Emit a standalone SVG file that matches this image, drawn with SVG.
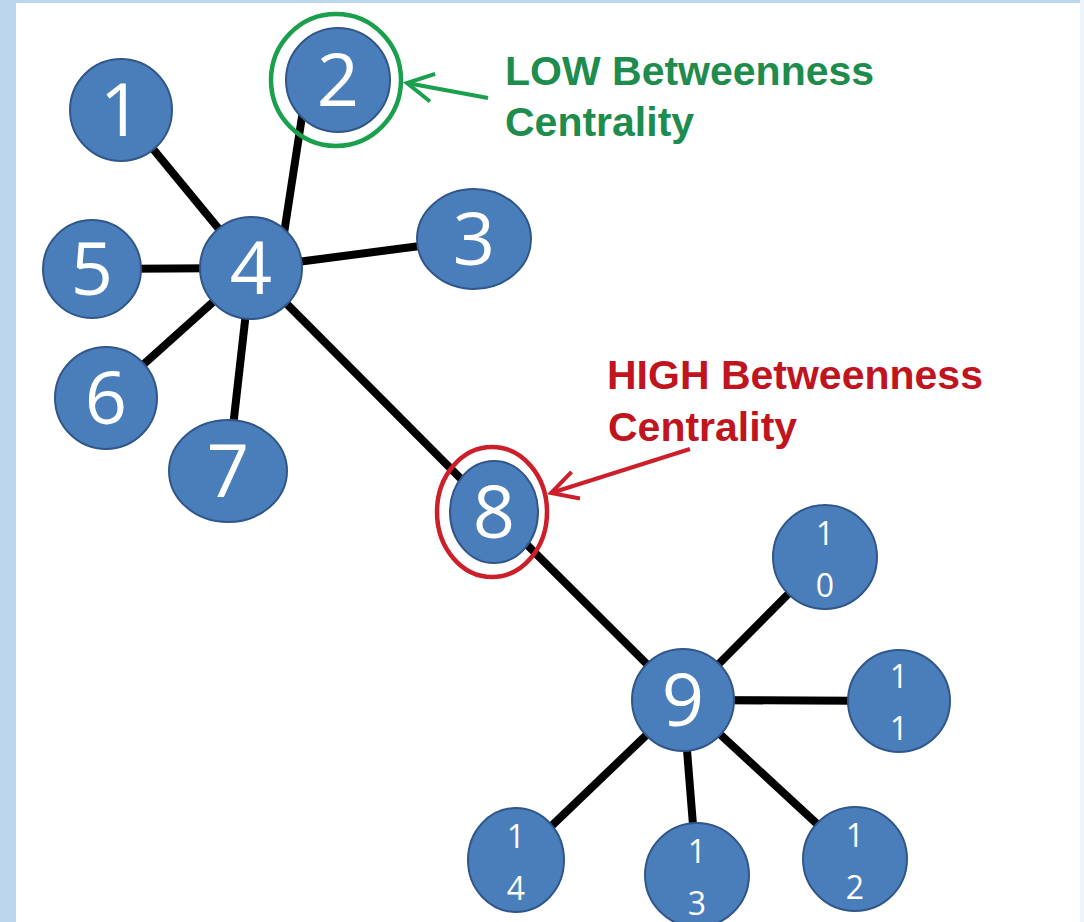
<svg xmlns="http://www.w3.org/2000/svg" width="1084" height="922" viewBox="0 0 1084 922">
<style>
.node{fill:#4a7ebb;stroke:#30568a;stroke-width:2}
.big{font-family:"Open Sans","Liberation Sans",sans-serif;font-size:74px;fill:#fff;text-anchor:middle}
.small{font-family:"Open Sans","Liberation Sans",sans-serif;font-size:32px;fill:#fff;text-anchor:middle}
.edge{stroke:#000;stroke-width:8;stroke-linecap:butt}
.lbl{font-family:"Liberation Sans",Arial,sans-serif;font-size:41px;font-weight:bold}
</style>
<defs>
<marker id="ag" markerUnits="userSpaceOnUse" markerWidth="40" markerHeight="40" viewBox="-30 -20 40 40" refX="0" refY="0" orient="auto">
<path d="M-26,-14 L0,0 L-26,14" fill="none" stroke="#1aa04c" stroke-width="4"/>
</marker>
<marker id="ar" markerUnits="userSpaceOnUse" markerWidth="40" markerHeight="40" viewBox="-30 -20 40 40" refX="0" refY="0" orient="auto">
<path d="M-26,-14 L0,0 L-26,14" fill="none" stroke="#cc1f2a" stroke-width="4"/>
</marker>
</defs>
<rect x="0" y="0" width="1084" height="922" fill="#bcd6ee"/>
<rect x="1080" y="0" width="4" height="922" fill="#eef4fb"/>
<rect x="16" y="3" width="1064" height="919" fill="#ffffff"/>
<g id="connectors">
<line class="edge" x1="121" y1="110" x2="251" y2="268"/>
<line class="edge" x1="303" y1="110" x2="283" y2="240"/>
<line class="edge" x1="92" y1="269" x2="251" y2="268"/>
<line class="edge" x1="474" y1="239" x2="251" y2="268"/>
<line class="edge" x1="106" y1="398" x2="251" y2="268"/>
<line class="edge" x1="228" y1="471" x2="251" y2="268"/>
<line class="edge" x1="251" y1="268" x2="494" y2="512"/>
<line class="edge" x1="494" y1="512" x2="683" y2="700"/>
<line class="edge" x1="825" y1="557" x2="683" y2="700"/>
<line class="edge" x1="899" y1="701" x2="683" y2="700"/>
<line class="edge" x1="855" y1="859" x2="683" y2="700"/>
<line class="edge" x1="697" y1="875" x2="683" y2="700"/>
<line class="edge" x1="516" y1="860" x2="683" y2="700"/>
</g>
<g id="n1"><circle class="node" cx="121" cy="110" r="51"/><text class="big" x="121" y="136">1</text></g>
<g id="n2"><circle class="node" cx="338" cy="80" r="52"/><text class="big" x="338" y="106">2</text>
<ellipse cx="336" cy="80" rx="65" ry="66" fill="none" stroke="#1aa04c" stroke-width="4.5"/></g>
<g id="n3"><ellipse class="node" cx="474" cy="239" rx="57" ry="50"/><text class="big" x="474" y="265">3</text></g>
<g id="n4"><circle class="node" cx="251" cy="268" r="51"/><text class="big" x="251" y="294">4</text></g>
<g id="n5"><circle class="node" cx="92" cy="269" r="49"/><text class="big" x="92" y="295">5</text></g>
<g id="n6"><circle class="node" cx="106" cy="398" r="51"/><text class="big" x="106" y="424">6</text></g>
<g id="n7"><ellipse class="node" cx="228" cy="471" rx="59" ry="51"/><text class="big" x="228" y="497">7</text></g>
<g id="n8"><ellipse class="node" cx="494" cy="512" rx="44" ry="51"/><text class="big" x="494" y="538">8</text>
<ellipse cx="492" cy="512" rx="55" ry="65" fill="none" stroke="#cc1f2a" stroke-width="4.5"/></g>
<g id="n9"><circle class="node" cx="683" cy="700" r="51"/><text class="big" x="683" y="726">9</text></g>
<g id="n10"><circle class="node" cx="825" cy="557" r="52"/><text class="small" x="825" y="545">1</text><text class="small" x="825" y="597">0</text></g>
<g id="n11"><circle class="node" cx="899" cy="701" r="51"/><text class="small" x="899" y="688">1</text><text class="small" x="899" y="740">1</text></g>
<g id="n12"><circle class="node" cx="855" cy="859" r="52"/><text class="small" x="855" y="847">1</text><text class="small" x="855" y="899">2</text></g>
<g id="n13"><circle class="node" cx="697" cy="875" r="52"/><text class="small" x="697" y="863">1</text><text class="small" x="697" y="915">3</text></g>
<g id="n14"><ellipse class="node" cx="516" cy="860" rx="48" ry="52"/><text class="small" x="516" y="848">1</text><text class="small" x="516" y="900">4</text></g>
<g id="low-label">
<line x1="488" y1="98" x2="407" y2="83" stroke="#1aa04c" stroke-width="4" marker-end="url(#ag)"/>
<text class="lbl" fill="#1e8c4c" x="505" y="85">LOW Betweenness</text>
<text class="lbl" fill="#1e8c4c" x="505" y="136">Centrality</text>
</g>
<g id="high-label">
<line x1="690" y1="449" x2="551" y2="493" stroke="#cc1f2a" stroke-width="4" marker-end="url(#ar)"/>
<text class="lbl" fill="#c0141e" x="607" y="389">HIGH Betweenness</text>
<text class="lbl" fill="#c0141e" x="608" y="441">Centrality</text>
</g>
</svg>
